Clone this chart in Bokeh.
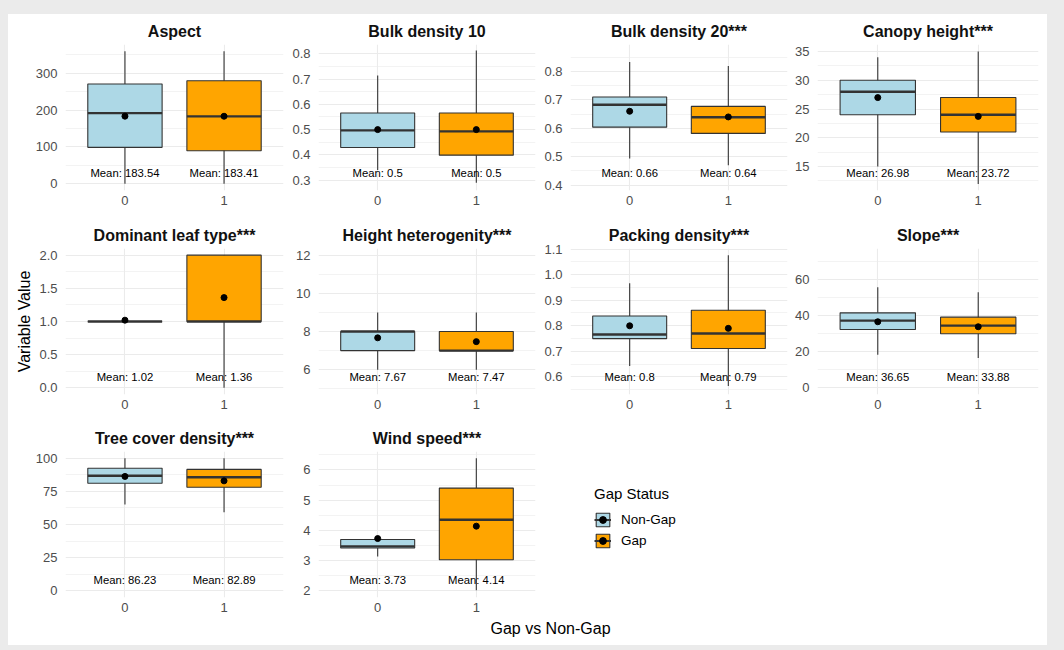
from bokeh.plotting import figure
from bokeh.layouts import row, column
from bokeh.models import (Range1d, FixedTicker, Legend, LegendItem, Label, Spacer,
                          GlobalInlineStyleSheet)
from bokeh.core.properties import value
from bokeh.embed import file_html
from bokeh.resources import INLINE

# ---------------- data ----------------
categories = ["0", "1"]
groups = ["Non-Gap", "Gap"]
group_colors = ["#ADD8E6", "#FFA500"]

variables = ["Aspect", "Bulk density 10", "Bulk density 20***", "Canopy height***",
             "Dominant leaf type***", "Height heterogenity***", "Packing density***", "Slope***",
             "Tree cover density***", "Wind speed***"]

# Non-Gap (category "0")
ng_lower = [0, 0.34, 0.494, 15, 1, 6, 0.643, 18.4, 65, 3.14]
ng_q1 = [99, 0.429, 0.604, 24, 1, 7, 0.750, 32.4, 81.1, 3.42]
ng_median = [192, 0.497, 0.683, 28, 1, 8, 0.766, 37.3, 86.7, 3.47]
ng_q3 = [271, 0.566, 0.710, 30, 1, 8, 0.838, 41.6, 92.4, 3.70]
ng_upper = [360, 0.714, 0.833, 34, 1, 9, 0.966, 55.8, 100, 3.70]
ng_mean = [183.54, 0.5, 0.66, 26.98, 1.02, 7.67, 0.8, 36.65, 86.23, 3.73]

# Gap (category "1")
g_lower = [0, 0.29, 0.47, 12, 0, 6, 0.565, 16.6, 59.2, 2.02]
g_q1 = [90, 0.399, 0.582, 21, 1, 7, 0.711, 30.0, 78.1, 3.03]
g_median = [183, 0.493, 0.639, 24, 1, 7, 0.770, 34.5, 85.6, 4.35]
g_q3 = [279.5, 0.566, 0.677, 27, 2, 8, 0.861, 39.2, 91.5, 5.40]
g_upper = [360, 0.813, 0.819, 35, 2, 9, 1.076, 53.0, 100, 6.39]
g_mean = [183.41, 0.5, 0.64, 23.72, 1.36, 7.47, 0.79, 33.88, 82.89, 4.14]

# displayed y ranges and ticks
y_lo = [-18, 0.259, 0.381, 10.85, -0.1, 4.7, 0.5315, -3.7, -5, 1.78]
y_hi = [378, 0.837, 0.895, 36.2, 2.1, 12.35, 1.102, 77.3, 105, 6.61]
y_ticks = [
    [0, 100, 200, 300],
    [0.3, 0.4, 0.5, 0.6, 0.7, 0.8],
    [0.4, 0.5, 0.6, 0.7, 0.8],
    [15, 20, 25, 30, 35],
    [0, 0.5, 1, 1.5, 2],
    [6, 8, 10, 12],
    [0.6, 0.7, 0.8, 0.9, 1.0, 1.1],
    [0, 20, 40, 60],
    [0, 25, 50, 75, 100],
    [2, 3, 4, 5, 6],
]
y_tick_labels = [
    ["0", "100", "200", "300"],
    ["0.3", "0.4", "0.5", "0.6", "0.7", "0.8"],
    ["0.4", "0.5", "0.6", "0.7", "0.8"],
    ["15", "20", "25", "30", "35"],
    ["0.0", "0.5", "1.0", "1.5", "2.0"],
    ["6", "8", "10", "12"],
    ["0.6", "0.7", "0.8", "0.9", "1.0", "1.1"],
    ["0", "20", "40", "60"],
    ["0", "25", "50", "75", "100"],
    ["2", "3", "4", "5", "6"],
]

y_title = "Variable Value"
x_title = "Gap vs Non-Gap"
legend_title = "Gap Status"

# ---------------- styling / layout ----------------
FONT = "Liberation Sans"
GRID = "#EBEBEB"
DARK = "#333333"
col_widths = [278, 253, 251, 257]
col_left = [57, 32, 31, 27]
col_right = [3, 4, 3, 9]
row_heights = [204, 203, 199]
frame_h = 146
top_border = 30


def make_panel(i, r, c):
    w = col_widths[c]
    h = row_heights[r]
    p = figure(width=w, height=h, x_range=Range1d(0.4, 2.6), y_range=Range1d(y_lo[i], y_hi[i]),
               min_border_left=col_left[c], min_border_right=col_right[c],
               min_border_top=top_border, min_border_bottom=h - top_border - frame_h,
               toolbar_location=None, output_backend="svg", title=variables[i],
               frame_align=False)
    p.outline_line_color = None
    p.background_fill_color = "white"
    p.border_fill_color = "white"
    p.title.align = "center"
    p.title.text_font = FONT
    p.title.text_font_size = "16px"
    p.title.text_font_style = "bold"
    p.title.text_color = "#111111"
    p.title.standoff = 10

    xs = [1, 2]
    p.xaxis.ticker = FixedTicker(ticks=xs)
    p.xaxis.major_label_overrides = {x: cat for x, cat in zip(xs, categories)}
    ticks = y_ticks[i]
    step = ticks[1] - ticks[0]
    minors = [ticks[0] - step / 2] + [(a + b) / 2 for a, b in zip(ticks[:-1], ticks[1:])] + [ticks[-1] + step / 2]
    p.yaxis.ticker = FixedTicker(ticks=ticks, minor_ticks=minors)
    p.yaxis.major_label_overrides = {t: s for t, s in zip(ticks, y_tick_labels[i])}
    for ax in (p.xaxis[0], p.yaxis[0]):
        ax.axis_line_color = None
        ax.major_tick_line_color = None
        ax.minor_tick_line_color = None
        ax.major_tick_out = 0
        ax.major_tick_in = 0
        ax.minor_tick_out = 0
        ax.major_label_text_font = FONT
        ax.major_label_text_font_size = "13px"
        ax.major_label_text_color = "#4D4D4D"
    p.xaxis.major_label_standoff = 5
    p.yaxis.major_label_standoff = 8
    p.xgrid.grid_line_color = GRID
    p.xgrid.grid_line_width = 1.1
    p.ygrid.grid_line_color = GRID
    p.ygrid.grid_line_width = 1.1
    p.ygrid.minor_grid_line_color = GRID
    p.ygrid.minor_grid_line_width = 0.6

    lowers = [ng_lower[i], g_lower[i]]
    q1s = [ng_q1[i], g_q1[i]]
    meds = [ng_median[i], g_median[i]]
    q3s = [ng_q3[i], g_q3[i]]
    uppers = [ng_upper[i], g_upper[i]]
    means = [ng_mean[i], g_mean[i]]
    half = 0.375
    p.segment(x0=xs, y0=lowers, x1=xs, y1=uppers, line_color=DARK, line_width=1.1)
    p.vbar(x=xs, bottom=q1s, top=q3s, width=0.75, fill_color=group_colors,
           line_color=DARK, line_width=1.1)
    p.segment(x0=[x - half for x in xs], y0=meds, x1=[x + half for x in xs], y1=meds,
              line_color=DARK, line_width=2.4)
    p.scatter(x=xs, y=means, size=6, color="black")
    ly = y_lo[i] + 0.12 * (y_hi[i] - y_lo[i])
    p.text(x=xs, y=[ly, ly], text=[f"Mean: {m:g}" for m in means],
           text_align="center", text_baseline="middle", text_font=value(FONT),
           text_font_size="11.3px", text_color="black")
    return p


panels = []
for i in range(10):
    r, c = divmod(i, 4)
    panels.append(make_panel(i, r, c))

# common y title on the first-column middle panel
ax = panels[4].yaxis[0]
ax.axis_label = y_title
ax.axis_label_text_font = FONT
ax.axis_label_text_font_size = "16px"
ax.axis_label_text_font_style = "normal"
ax.axis_label_text_color = "black"
ax.axis_label_standoff = 3

# legend panel
lf = figure(width=col_widths[2] + col_widths[3], height=row_heights[2],
            x_range=Range1d(0, 1), y_range=Range1d(0, 1),
            x_axis_location=None, y_axis_location=None,
            min_border_left=21, min_border_top=top_border, min_border_right=0,
            min_border_bottom=row_heights[2] - top_border - frame_h,
            toolbar_location=None, output_backend="svg", frame_align=False)
lf.outline_line_color = None
lf.grid.visible = False
items = []
for g, col in zip(groups, group_colors):
    b = lf.vbar(x=[5], bottom=[5], top=[6], width=0.5, fill_color=col, line_color=DARK, line_width=1.1)
    m = lf.segment(x0=[5], y0=[5], x1=[6], y1=[5], line_color=DARK, line_width=2)
    d = lf.scatter(x=[5], y=[5], size=6, color="black")
    items.append(LegendItem(label=g, renderers=[b, m, d]))
legend = Legend(items=items, location="top_left", title=legend_title,
                border_line_color=None, background_fill_alpha=0, padding=0, margin=34,
                spacing=4, glyph_width=17, glyph_height=17, label_standoff=10, label_height=17,
                label_text_font=FONT, label_text_font_size="13.5px", label_text_color="black",
                title_text_font=FONT, title_text_font_size="15px", title_text_font_style="normal",
                title_text_color="black", title_standoff=9)
lf.add_layout(legend)

# x title strip
total_w = sum(col_widths)
xt = figure(width=total_w, height=25, x_range=Range1d(0, total_w), y_range=Range1d(0, 25),
            x_axis_location=None, y_axis_location=None,
            min_border_left=0, min_border_right=0, min_border_top=0, min_border_bottom=0,
            toolbar_location=None, output_backend="svg", frame_align=False)
xt.outline_line_color = None
xt.grid.visible = False
xt.add_layout(Label(x=542, y=17, text=x_title, text_align="center", text_baseline="middle",
                    text_font=FONT, text_font_size="16px", text_color="black"))

white_block = column(
    row(*panels[0:4], spacing=0),
    row(*panels[4:8], spacing=0),
    row(panels[8], panels[9], lf, spacing=0),
    xt,
    spacing=0,
    styles={"background-color": "white"},
)

layout = column(
    Spacer(width=total_w + 8, height=14),
    row(Spacer(width=8, height=10), white_block, spacing=0),
    spacing=0,
)
layout.stylesheets = [GlobalInlineStyleSheet(css="html, body { background-color: #ebebeb; }")]

open("out.html", "w").write(file_html(layout, INLINE))
